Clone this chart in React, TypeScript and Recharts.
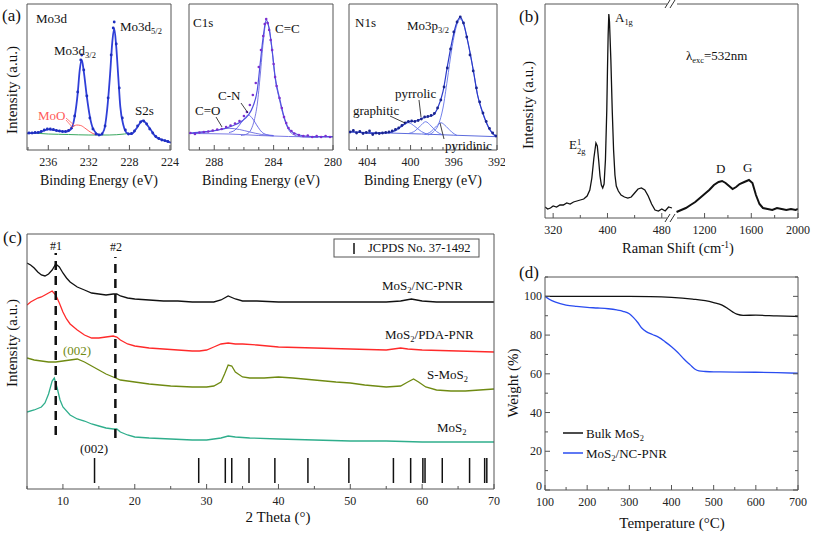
import React from "react";
import { ComposedChart, Line, XAxis, YAxis, ReferenceLine } from "recharts";

const FONT = "'Liberation Serif', 'DejaVu Serif', 'Times New Roman', serif";
const AXIS = "#555";

// ---------- (a) XPS: Mo3d ----------
const mo3dFitE = [238.1, 237.0, 236.0, 235.0, 234.2, 233.7, 233.4, 233.1, 232.9, 232.7, 232.5, 232.2, 231.9, 231.6, 230.9, 230.5, 230.2, 229.9, 229.7, 229.5, 229.3, 229.1, 228.9, 228.6, 228.2, 227.8, 227.3, 226.7, 226.0, 225.4, 224.5, 223.9];
const mo3dFitI = [16.7, 17.3, 20.7, 19, 18.3, 21.7, 33.3, 56.7, 80, 90, 78.3, 53.3, 33.3, 21.7, 15, 20, 40, 76.7, 106.7, 121.7, 103.3, 73.3, 43.3, 25, 16.7, 16, 21.7, 29.3, 21.7, 13.3, 9.3, 7.3];
const mo3dRawE = [237.9, 237.6, 237.3, 237.0, 236.7, 236.4, 236.1, 235.8, 235.5, 235.2, 234.9, 234.6, 234.3, 234.0, 233.7, 233.4, 233.1, 232.8, 232.7, 232.5, 232.2, 231.9, 231.6, 231.3, 231.0, 230.7, 230.4, 230.1, 229.8, 229.6, 229.5, 229.3, 229.0, 228.7, 228.4, 228.1, 227.8, 227.5, 227.2, 226.9, 226.6, 226.3, 226.0, 225.7, 225.4, 225.1, 224.8, 224.5, 224.2];
const mo3dRawI = [17, 17, 17.5, 17.5, 18.5, 20, 21, 21, 20.5, 19.5, 19, 18.5, 18.5, 19.5, 22, 34, 58, 90, 95, 80, 54, 32, 21, 16, 15, 16, 24, 52, 95, 122, 128, 106, 62, 32, 20, 16, 16.5, 19, 24, 28, 29, 26, 21, 17, 13.5, 11.5, 10, 9.3, 8.5];
const mo3dMoOE = [234.4, 234.0, 233.6, 233.2, 232.8, 232.4, 232.0, 231.6, 231.2];
const mo3dMoOI = [18.5, 20, 23, 25, 24.5, 22, 19, 16.5, 15];
const mo3dBgE = [237.5, 236.0, 234.0, 232.0, 230.0, 228.5, 228.1];
const mo3dBgI = [17, 16, 15.5, 15, 15, 16, 16.5];

// ---------- (a) XPS: C1s ----------
const c1sFitE = [289.7, 288.6, 287.7, 286.8, 286.1, 285.7, 285.4, 285.1, 284.9, 284.7, 284.5, 284.3, 284.1, 283.9, 283.6, 283.3, 283.0, 282.6, 281.9, 281.0, 280.0];
const c1sFitI = [16.7, 18.3, 20, 24, 29.3, 35, 43.3, 60, 87, 113.3, 130, 121.7, 100, 73.3, 51.7, 33.3, 21.7, 16.7, 14, 13.3, 13.3];
const c1sRawE = [289.6, 289.3, 289.0, 288.7, 288.4, 288.1, 287.8, 287.5, 287.2, 286.9, 286.6, 286.3, 286.0, 285.8, 285.6, 285.4, 285.2, 285.0, 284.85, 284.7, 284.6, 284.5, 284.4, 284.3, 284.2, 284.1, 284.0, 283.9, 283.8, 283.6, 283.45, 283.3, 283.15, 283.0, 282.8, 282.6, 282.3, 282.0, 281.7, 281.4, 281.1, 280.8, 280.5, 280.2];
const c1sRawI = [17, 16, 17.5, 18, 18.5, 19.5, 20.5, 21, 23, 24.5, 26.5, 29, 34, 38, 45, 55, 67, 83, 100, 114, 126, 131, 127, 120, 110, 100, 86, 73, 64, 52, 42, 33, 27, 22, 19, 16.5, 15, 14, 14.5, 13, 14, 13, 14, 13];
const c1sCCE = [286.2, 285.8, 285.5, 285.3, 285.1, 284.9, 284.7, 284.5, 284.3, 284.1, 283.9, 283.6, 283.3, 283.0, 282.6, 282.0, 281.0];
const c1sCCI = [14.5, 16, 21, 30, 46, 75, 108, 128, 121, 99, 72, 50, 32, 20.5, 15, 13, 12.5];
const c1sCNE = [287.0, 286.6, 286.3, 286.0, 285.7, 285.4, 285.1, 284.8, 284.5, 284.0];
const c1sCNI = [17.5, 20, 25, 31, 35, 31, 24, 18, 15.5, 14.5];
const c1sCOE = [289.5, 288.5, 287.8, 287.0, 286.3, 285.6, 284.8, 284.0];
const c1sCOI = [16.5, 18, 20, 21.7, 20.5, 18, 15.5, 14];
const c1sBgE = [289.7, 287.0, 285.0, 283.0, 280.0];
const c1sBgI = [16.5, 16, 14.5, 13.5, 13];

// ---------- (a) XPS: N1s ----------
const n1sFitE = [405.7, 404.5, 403.3, 402.0, 401.4, 400.8, 400.2, 399.5, 398.9, 398.4, 397.9, 397.5, 397.0, 396.6, 396.2, 395.8, 395.4, 395.1, 394.7, 394.2, 393.8, 393.3, 392.8, 392.4, 392.0];
const n1sFitI = [18.3, 17.3, 16.7, 17.3, 20, 24.3, 28.3, 29, 31.7, 33.3, 35, 41.7, 58.3, 83.3, 106.7, 125, 132.7, 126.7, 108.3, 80, 55, 36.7, 23.3, 16.7, 13.5];
const n1sRawE = [405.6, 405.3, 405.0, 404.7, 404.4, 404.1, 403.8, 403.5, 403.2, 402.9, 402.6, 402.3, 402.0, 401.7, 401.4, 401.1, 400.8, 400.5, 400.2, 399.9, 399.6, 399.3, 399.0, 398.7, 398.4, 398.1, 397.8, 397.5, 397.2, 396.9, 396.6, 396.3, 396.0, 395.7, 395.4, 395.1, 394.8, 394.5, 394.2, 393.9, 393.6, 393.3, 393.0, 392.7, 392.4, 392.1];
const n1sRawI = [18, 19.5, 17, 18.5, 16.5, 17.5, 19, 15.5, 17, 16.5, 17, 17.5, 18, 19, 20.5, 22, 24.5, 27, 28.5, 29, 28.5, 29.5, 31, 33, 33.5, 34.5, 36.5, 42, 50, 63, 82, 101, 118, 128, 133, 127, 113, 95, 79, 62, 48, 37, 28.5, 21.5, 17, 14];
const n1sGraphE = [402.0, 401.4, 400.8, 400.2, 399.6, 399.0, 398.5];
const n1sGraphI = [17.5, 19, 23.5, 27.3, 23.5, 18.5, 16];
const n1sPyrrE = [400.2, 399.6, 399.1, 398.6, 398.1, 397.6, 397.1];
const n1sPyrrI = [16.5, 19, 24, 28.3, 24, 18.5, 15.5];
const n1sPyriE = [398.7, 398.1, 397.6, 397.2, 396.7, 396.2, 395.7];
const n1sPyriI = [15.5, 18.5, 24, 27.3, 23.5, 18, 14.5];
const n1sMoE = [398.4, 397.9, 397.4, 397.0, 396.6, 396.2, 395.8, 395.4, 395.1, 394.7, 394.2, 393.8, 393.3, 392.8, 392.4, 392.0];
const n1sMoI = [15, 18, 26, 42, 70, 100, 122, 131, 126, 108, 80, 55, 36, 22.5, 16, 13.3];
const n1sBgE = [405.7, 402.0, 399.0, 396.0, 392.0];
const n1sBgI = [18, 17, 16, 14.8, 13.3];

// ---------- (b) Raman ----------
const ramanLowShift = [308, 312, 316, 320, 325, 330, 335, 340, 345, 350, 355, 360, 365, 370, 374, 377, 380, 383, 385, 387, 389, 391, 393, 395, 397, 399, 400, 401, 402, 403, 405, 407, 409, 411, 413, 416, 420, 425, 430, 435, 440, 445, 450, 455, 460, 465, 470, 475, 480, 485, 490, 495];
const ramanLowI = [11, 9, 10, 12, 11, 13, 13, 15, 14, 16, 17, 18, 19, 22, 28, 40, 60, 75, 72, 58, 42, 33, 30, 34, 58, 108, 148, 183, 204, 196, 158, 108, 68, 43, 32, 27, 23, 21, 20, 21, 25, 29, 30, 28, 22, 14, 8, 7, 9, 7, 11, 10];
const ramanHighShift = [960, 1000, 1040, 1080, 1120, 1160, 1200, 1240, 1280, 1320, 1350, 1380, 1410, 1440, 1470, 1500, 1540, 1580, 1610, 1640, 1670, 1700, 1740, 1780, 1820, 1860, 1900, 1940, 1980, 2000];
const ramanHighI = [6, 8, 10, 13, 16, 20, 24, 28, 33, 36, 37, 35, 32, 29, 31, 34, 36, 38, 35, 23, 14, 10, 9, 8, 10, 9, 8, 9, 8, 9];
const ramanMajor = [320, 400, 480, 1200, 1600, 2000];
const ramanMinor = [360, 440, 1400, 1800];

// ---------- (c) XRD ----------
const xrdNcTheta = [5, 5.5, 6, 6.5, 7, 7.5, 8, 8.5, 9, 9.5, 10, 10.5, 11, 12, 13, 14, 15, 16, 17, 17.5, 18, 19, 20, 22, 24, 26, 28, 30, 31, 32, 33, 34, 35, 37, 40, 45, 50, 55, 57, 58.5, 60, 62, 65, 70];
const xrdNcI = [226, 224, 221, 217, 214, 213, 215, 219, 225, 222, 216, 211, 207, 202, 199, 196, 195, 194, 195, 195, 193, 191, 190, 189, 188, 188, 187, 187, 187, 189, 193, 190, 188, 188, 187, 187, 187, 187, 188, 190, 188, 187, 187, 187];
const xrdPdaTheta = [5, 5.5, 6, 6.5, 7, 7.5, 8, 8.5, 9, 9.5, 10, 10.5, 11, 12, 13, 14, 15, 16, 17, 17.5, 18, 19, 20, 22, 24, 26, 28, 29, 30, 31, 32, 33, 34, 35, 37, 40, 45, 50, 55, 57, 58, 60, 65, 70];
const xrdPdaI = [184, 187, 189, 191, 192, 194, 196, 198, 194, 186, 177, 170, 165, 159, 154, 151, 151, 152, 153, 152, 149, 145, 143, 141, 140, 139, 138, 138, 139, 142, 145, 146, 145, 145, 144, 142, 141, 140, 139, 141, 140, 139, 138, 137];
const xrdSTheta = [5, 6, 7, 8, 9, 10, 11, 12, 13, 14, 15, 16, 17, 18, 19, 20, 22, 25, 28, 30, 31, 32, 32.5, 33, 33.5, 34, 35, 36, 38, 40, 42, 45, 48, 50, 52, 55, 57, 58, 58.8, 59.5, 60.5, 62, 64, 66, 68, 70];
const xrdSI = [131, 129, 128, 127, 127, 128, 129, 130, 127, 123, 119, 115, 112, 109, 108, 107, 105, 103, 102, 102, 103, 107, 115, 124, 123, 117, 112, 111, 111, 112, 111, 109, 107, 106, 104, 102, 103, 107, 110, 107, 102, 99, 98, 98, 99, 100];
const xrdBulkTheta = [5, 6, 7, 7.5, 8, 8.5, 8.8, 9.2, 9.6, 10, 11, 12, 13, 14, 15, 16, 17, 17.5, 18, 19, 20, 22, 25, 28, 30, 32, 33, 34, 36, 40, 45, 50, 55, 60, 65, 70];
const xrdBulkI = [77, 79, 82, 86, 95, 108, 111, 101, 89, 82, 74, 70, 68, 65, 63, 61, 60, 60, 57, 54, 52, 51, 50, 49, 49, 51, 53, 52, 51, 50, 49, 48, 48, 47, 47, 47];
const jcpdsPeaks = [14.4, 28.9, 32.6, 33.5, 35.9, 39.5, 44.1, 49.8, 56.0, 58.4, 60.1, 60.4, 62.8, 66.6, 68.7, 69.0];
const xrdMajor = [10, 20, 30, 40, 50, 60, 70];
const xrdMinor = [5, 15, 25, 35, 45, 55, 65];

// ---------- (d) TGA ----------
const tgaBulkT = [100, 150, 200, 250, 300, 350, 400, 450, 480, 500, 520, 535, 545, 555, 570, 600, 650, 700];
const tgaBulkW = [100, 100, 100, 100, 100, 99.9, 99.5, 98.6, 97.8, 96.8, 95.5, 93.5, 92, 90.8, 90.2, 90.3, 89.9, 89.6];
const tgaNcT = [100, 110, 125, 150, 175, 200, 225, 250, 270, 285, 300, 310, 320, 330, 340, 355, 370, 385, 400, 415, 430, 445, 455, 465, 480, 500, 550, 600, 650, 700];
const tgaNcW = [100, 98.5, 97, 95.5, 94.8, 94.3, 94, 93.6, 93, 92.3, 91, 89, 86.5, 83.5, 81.8, 80.3, 78.8, 76.5, 74, 71, 67.5, 64.5, 62.5, 61.5, 61.2, 61, 60.9, 60.8, 60.6, 60.3];

const zip = (xs: number[], ys: number[]) => xs.map((x, i) => ({ x, y: ys[i] }));
const range = (a: number, b: number, s: number) => {
  const out: number[] = [];
  for (let v = a; v <= b + 1e-9; v += s) out.push(Math.round(v * 1000) / 1000);
  return out;
};

// broken Raman axis: 300-500 kept, 950-2000 compressed
const RAMAN_K = 0.172;
const ramanAxis = (s: number) => (s <= 500 ? s : 500 + (s - 950) * RAMAN_K);
const ramanInv = (v: number) => (v <= 500 ? v : 950 + (v - 500) / RAMAN_K);

type Side = "bottom" | "top" | "left" | "right";
const tickFn =
  (side: Side, majors: number[], label: boolean, fmt: (v: number) => string = (v) => String(v)) =>
  (p: any) => {
    const v = p.payload?.value;
    const major = majors.some((m) => Math.abs(m - v) < 1e-6);
    const len = major ? 5 : 3;
    const x = p.x;
    const y = p.y;
    let x2 = x;
    let y2 = y;
    if (side === "bottom") y2 = y - len;
    if (side === "top") y2 = y + len;
    if (side === "left") x2 = x + len;
    if (side === "right") x2 = x - len;
    let txt = null;
    if (label && major && side === "bottom")
      txt = (
        <text x={x} y={y + 12} textAnchor="middle" dominantBaseline="central" fontSize={12} fontFamily={FONT} fill="#222">
          {fmt(v)}
        </text>
      );
    if (label && major && side === "left")
      txt = (
        // the lowest label sits a little above the corner, as in the source
        <text x={x - 3} y={v === 0 ? y - 4 : y} textAnchor="end" dominantBaseline="central" fontSize={12} fontFamily={FONT} fill="#222">
          {fmt(v)}
        </text>
      );
    return (
      <g>
        <line x1={x} y1={y} x2={x2} y2={y2} stroke={AXIS} strokeWidth={1} />
        {txt}
      </g>
    );
  };

type FrameOpts = {
  xDomain: [number, number];
  yDomain: [number, number];
  xTicks: number[];
  xMajor: number[];
  reversed?: boolean;
  xFmt?: (v: number) => string;
  yTicks?: number[];
  yMajor?: number[];
};

// four 1px axes forming the closed box, ticks pointing inward
function frame(o: FrameOpts) {
  const common = { type: "number" as const, allowDataOverflow: true, tickSize: 0, tickMargin: 0, tickLine: false, interval: 0 as const, axisLine: { stroke: AXIS } };
  const yT = o.yTicks ?? [];
  const yM = o.yMajor ?? [];
  return [
    <XAxis key="xb" {...common} xAxisId={0} dataKey="x" domain={o.xDomain} reversed={o.reversed} ticks={o.xTicks} height={1} tick={tickFn("bottom", o.xMajor, true, o.xFmt)} />,
    <XAxis key="xt" {...common} xAxisId="top" orientation="top" domain={o.xDomain} reversed={o.reversed} ticks={o.xTicks} height={1} tick={tickFn("top", o.xMajor, false)} />,
    <YAxis key="yl" {...common} yAxisId={0} domain={o.yDomain} ticks={yT} width={1} tick={yT.length ? tickFn("left", yM, true) : false} />,
    <YAxis key="yr" {...common} yAxisId="right" orientation="right" domain={o.yDomain} ticks={yT} width={1} tick={yT.length ? tickFn("right", yM, false) : false} />,
  ];
}

const curve = (key: string, data: { x: number; y: number }[], color: string, width = 1, type: any = "monotone") => (
  <Line key={key} data={data} dataKey="y" type={type} stroke={color} strokeWidth={width} dot={false} activeDot={false} isAnimationActive={false} />
);
const dots = (key: string, data: { x: number; y: number }[], color: string, r = 1.3) => (
  <Line key={key} data={data} dataKey="y" stroke="none" dot={{ r, fill: color, stroke: "none" }} activeDot={false} isAnimationActive={false} />
);

const Txt = ({ x, y, size = 13, color = "#111", align = "left", children }: any) => (
  <div
    style={{
      position: "absolute",
      left: x,
      top: y,
      transform: `translate(${align === "center" ? "-50%" : align === "right" ? "-100%" : "0"}, -50%)`,
      fontSize: size,
      color,
      fontFamily: FONT,
      whiteSpace: "nowrap",
      lineHeight: 1,
    }}
  >
    {children}
  </div>
);
const VTxt = ({ x, y, size = 14, children }: any) => (
  <div
    style={{
      position: "absolute",
      left: x,
      top: y,
      transform: "translate(-50%, -50%) rotate(-90deg)",
      fontSize: size,
      color: "#111",
      fontFamily: FONT,
      whiteSpace: "nowrap",
      lineHeight: 1,
    }}
  >
    {children}
  </div>
);
const Sub = ({ children }: any) => <span style={{ fontSize: "0.65em", position: "relative", top: "0.4em" }}>{children}</span>;
const Sup = ({ children }: any) => <span style={{ fontSize: "0.65em", position: "relative", top: "-0.5em" }}>{children}</span>;

// plot box = margin + 1px axis bands
const Panel = ({ left, top, width, height, box, children }: any) => (
  <div style={{ position: "absolute", left, top, width, height }}>
    <ComposedChart
      width={width}
      height={height}
      margin={{ left: box[0] - left - 1, top: box[1] - top - 1, right: left + width - box[2] - 1, bottom: top + height - box[3] - 1 }}
    >
      {children}
    </ComposedChart>
  </div>
);

export default function App() {
  const ramanTicks = [...ramanMajor, ...ramanMinor].map(ramanAxis).sort((a, b) => a - b);

  return (
    <div style={{ position: "absolute", left: 0, top: 0, width: 813, height: 534, background: "#fff", overflow: "hidden", fontFamily: FONT }}>
      {/* Mo3d */}
      <Panel left={0} top={0} width={180} height={195} box={[27, 4, 171, 150]}>
        {frame({ xDomain: [223.9, 238.1], yDomain: [0, 146], reversed: true, xTicks: range(224, 238, 2), xMajor: [224, 228, 232, 236] })}
        {curve("bg", zip(mo3dBgE, mo3dBgI), "#3aa860", 1)}
        {curve("moo", zip(mo3dMoOE, mo3dMoOI), "#ff6060", 1)}
        {curve("fit", zip(mo3dFitE, mo3dFitI), "#2f3fd8", 1.8)}
        {dots("raw", zip(mo3dRawE, mo3dRawI), "#1f2fc0", 1.4)}
      </Panel>
      {/* C1s */}
      <Panel left={180} top={0} width={165} height={195} box={[189, 4, 333, 150]}>
        {frame({ xDomain: [280, 289.7], yDomain: [0, 146], reversed: true, xTicks: range(280, 289, 1), xMajor: [280, 284, 288] })}
        {curve("bg", zip(c1sBgE, c1sBgI), "#6a6ae0", 0.9)}
        {curve("co", zip(c1sCOE, c1sCOI), "#6a6ae0", 0.9)}
        {curve("cn", zip(c1sCNE, c1sCNI), "#5a5ae8", 0.9)}
        {curve("cc", zip(c1sCCE, c1sCCI), "#6a6ae0", 0.9)}
        {curve("fit", zip(c1sFitE, c1sFitI), "#5050e0", 1.2)}
        {dots("raw", zip(c1sRawE, c1sRawI), "#7a2fd0", 1.3)}
      </Panel>
      {/* N1s */}
      <Panel left={345} top={0} width={160} height={195} box={[349, 4, 497, 150]}>
        {frame({ xDomain: [392, 405.7], yDomain: [0, 146], reversed: true, xTicks: range(392, 405, 1), xMajor: [392, 396, 400, 404] })}
        {curve("bg", zip(n1sBgE, n1sBgI), "#4a5ad8", 0.9)}
        {curve("gr", zip(n1sGraphE, n1sGraphI), "#6070e8", 0.9)}
        {curve("py", zip(n1sPyrrE, n1sPyrrI), "#6070e8", 0.9)}
        {curve("pd", zip(n1sPyriE, n1sPyriI), "#6070e8", 0.9)}
        {curve("mo", zip(n1sMoE, n1sMoI), "#6070e8", 0.9)}
        {curve("fit", zip(n1sFitE, n1sFitI), "#2a3ac8", 1.2)}
        {dots("raw", zip(n1sRawE, n1sRawI), "#1a2590", 1.4)}
      </Panel>
      {/* Raman */}
      <Panel left={505} top={0} width={308} height={260} box={[545, 4, 798, 218]}>
        {frame({ xDomain: [308, ramanAxis(2000)], yDomain: [0, 214], xTicks: ramanTicks, xMajor: ramanMajor.map(ramanAxis), xFmt: (v) => String(Math.round(ramanInv(v))) })}
        {curve("lo", ramanLowShift.map((s, i) => ({ x: ramanAxis(s), y: ramanLowI[i] })), "#111", 1.3, "linear")}
        {curve("hi", ramanHighShift.map((s, i) => ({ x: ramanAxis(s), y: ramanHighI[i] })), "#111", 2, "linear")}
      </Panel>
      {/* XRD */}
      <Panel left={0} top={225} width={505} height={309} box={[27, 234, 494, 489]}>
        {frame({ xDomain: [5, 70], yDomain: [0, 255], xTicks: [...xrdMajor, ...xrdMinor].sort((a, b) => a - b), xMajor: xrdMajor })}
        {curve("nc", zip(xrdNcTheta, xrdNcI), "#111", 1.3, "linear")}
        {curve("pda", zip(xrdPdaTheta, xrdPdaI), "#ff2a2a", 1.3, "linear")}
        {curve("s", zip(xrdSTheta, xrdSI), "#6f8a12", 1.3, "linear")}
        {curve("bulk", zip(xrdBulkTheta, xrdBulkI), "#2fae8c", 1.3, "linear")}
        <ReferenceLine segment={[{ x: 9.0, y: 54 }, { x: 9.0, y: 236 }]} stroke="#111" strokeWidth={2.5} strokeDasharray="9 6" ifOverflow="visible" />
        <ReferenceLine segment={[{ x: 17.3, y: 51 }, { x: 17.3, y: 232 }]} stroke="#111" strokeWidth={2.5} strokeDasharray="9 6" ifOverflow="visible" />
        {jcpdsPeaks.map((p) => (
          <ReferenceLine key={p} segment={[{ x: p, y: 6 }, { x: p, y: 31 }]} stroke="#111" strokeWidth={1.5} />
        ))}
      </Panel>
      {/* TGA */}
      <Panel left={505} top={260} width={308} height={274} box={[545, 277, 798, 490]}>
        {frame({ xDomain: [100, 700], yDomain: [0, 110], xTicks: range(100, 700, 50), xMajor: range(100, 700, 100), yTicks: range(0, 110, 10), yMajor: range(0, 100, 20) })}
        {curve("bulk", zip(tgaBulkT, tgaBulkW), "#111", 1.3)}
        {curve("nc", zip(tgaNcT, tgaNcW), "#2a4cf0", 1.3)}
      </Panel>

      {/* annotations */}
      <svg width={813} height={534} style={{ position: "absolute", left: 0, top: 0, pointerEvents: "none" }}>
        <g stroke="#ff6060" strokeWidth={0.8}>
          <line x1={66} y1={118} x2={75} y2={126} />
          <line x1={66} y1={120} x2={73} y2={128} />
        </g>
        <g stroke="#111" strokeWidth={0.8}>
          <line x1={241} y1={103} x2={248} y2={113} />
          <line x1={216} y1={117} x2={222} y2={127} />
          <line x1={390} y1={116} x2={405} y2={123} />
          <line x1={419} y1={100} x2={421} y2={117} />
          <line x1={440} y1={123} x2={444} y2={139} />
        </g>
        <rect x={667} y={0} width={10} height={9} fill="#fff" />
        <rect x={667} y={214} width={10} height={9} fill="#fff" />
        <g stroke="#333" strokeWidth={1}>
          <line x1={665} y1={8} x2={670} y2={0} />
          <line x1={670} y1={8} x2={675} y2={0} />
          <line x1={665} y1={222} x2={670} y2={214} />
          <line x1={670} y1={222} x2={675} y2={214} />
        </g>
        <rect x={334} y={239} width={145} height={18} fill="#fff" stroke={AXIS} strokeWidth={1} />
        <line x1={354} y1={243} x2={354} y2={254} stroke="#111" strokeWidth={1.5} />
        <line x1={563} y1={433} x2={583} y2={433} stroke="#111" strokeWidth={1.5} />
        <line x1={563} y1={453} x2={583} y2={453} stroke="#2a4cf0" strokeWidth={1.5} />
      </svg>

      <Txt x={2} y={15} size={17}>(a)</Txt>
      <Txt x={36} y={18}>Mo3d</Txt>
      <Txt x={54} y={50}>Mo3d<Sub>3/2</Sub></Txt>
      <Txt x={120} y={26}>Mo3d<Sub>5/2</Sub></Txt>
      <Txt x={135} y={110}>S2s</Txt>
      <Txt x={38} y={115} color="#ff5a5a">MoO</Txt>
      <VTxt x={12} y={90} size={15}>Intensity (a.u.)</VTxt>
      <Txt x={99} y={181} size={14} align="center">Binding Energy (eV)</Txt>

      <Txt x={193} y={22}>C1s</Txt>
      <Txt x={275} y={28}>C=C</Txt>
      <Txt x={218} y={95}>C-N</Txt>
      <Txt x={195} y={110}>C=O</Txt>
      <Txt x={261} y={181} size={14} align="center">Binding Energy (eV)</Txt>

      <Txt x={355} y={22}>N1s</Txt>
      <Txt x={407} y={25}>Mo3p<Sub>3/2</Sub></Txt>
      <Txt x={395} y={93}>pyrrolic</Txt>
      <Txt x={353} y={110}>graphitic</Txt>
      <Txt x={445} y={145}>pyridinic</Txt>
      <Txt x={423} y={181} size={14} align="center">Binding Energy (eV)</Txt>

      <Txt x={519} y={16} size={17}>(b)</Txt>
      <VTxt x={528} y={105} size={15}>Intensity (a.u.)</VTxt>
      <Txt x={615} y={17}>A<Sub>1g</Sub></Txt>
      <Txt x={569} y={146}>
        E
        <span style={{ display: "inline-block", verticalAlign: "middle", fontSize: "0.65em", lineHeight: 1.05, position: "relative", top: "0.1em" }}>
          1<br />2g
        </span>
      </Txt>
      <Txt x={686} y={55}>λ<Sub>exc</Sub>=532nm</Txt>
      <Txt x={716} y={168}>D</Txt>
      <Txt x={743} y={167}>G</Txt>
      <Txt x={678} y={248} size={14.5} align="center">Raman Shift (cm<Sup>-1</Sup>)</Txt>

      <Txt x={3} y={237} size={17}>(c)</Txt>
      <Txt x={56} y={246} align="center" size={12}>#1</Txt>
      <Txt x={116} y={247} align="center" size={12}>#2</Txt>
      <Txt x={368} y={248} size={12.5}>JCPDS No. 37-1492</Txt>
      <Txt x={382} y={285}>MoS<Sub>2</Sub>/NC-PNR</Txt>
      <Txt x={385} y={334}>MoS<Sub>2</Sub>/PDA-PNR</Txt>
      <Txt x={427} y={374}>S-MoS<Sub>2</Sub></Txt>
      <Txt x={437} y={427}>MoS<Sub>2</Sub></Txt>
      <Txt x={63} y={350} color="#6f8a12">(002)</Txt>
      <Txt x={80} y={448}>(002)</Txt>
      <VTxt x={12} y={343} size={15}>Intensity (a.u.)</VTxt>
      <Txt x={278} y={517} size={15} align="center">2 Theta (°)</Txt>

      <Txt x={519} y={272} size={17}>(d)</Txt>
      <VTxt x={513} y={383} size={15}>Weight (%)</VTxt>
      <Txt x={586} y={433} size={13}>Bulk MoS<Sub>2</Sub></Txt>
      <Txt x={586} y={453} size={13}>MoS<Sub>2</Sub>/NC-PNR</Txt>
      <Txt x={672} y={523} size={15} align="center">Temperature (°C)</Txt>
    </div>
  );
}
